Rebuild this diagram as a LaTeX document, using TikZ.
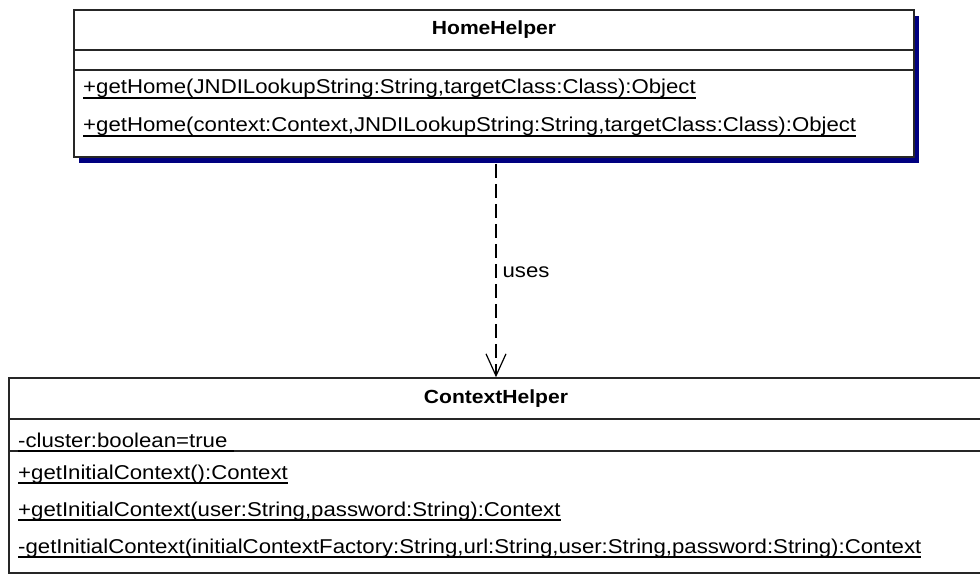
\documentclass[tikz,border=0pt]{standalone}
\usepackage{fontspec}
\setmainfont{Liberation Sans}[FakeStretch=1.11]
\usepackage{tikz}
\usetikzlibrary{positioning,shadows,arrows.meta}
\definecolor{shadowblue}{RGB}{0,0,128}
\newcommand{\ulined}[1]{\setbox0\hbox{#1}\rlap{\vrule height -3.4pt depth 4.6pt width \wd0}\box0}
\tikzset{
classbox/.style={rectangle, draw=black!85, line width=1.5pt, fill=white, inner sep=0pt},
classshadow/.style={drop shadow={shadow xshift=5pt, shadow yshift=-6pt, fill=shadowblue, opacity=1}},
classline/.style={draw=black!85, line width=1.5pt},
classname/.style={font=\fontsize{19}{22}\selectfont\bfseries, inner sep=0pt},
member/.style={font=\fontsize{20}{24}\selectfont, anchor=base west, inner sep=0pt},
uses/.style={line width=1.2pt, dash pattern=on 14pt off 6pt, shorten <=6pt,
  -{Straight Barb[length=22pt, width=20pt, line width=1.2pt]}}
}

\begin{document}
\begin{tikzpicture}[x=1pt, y=-1pt]
\useasboundingbox (0,0) rectangle (980,575);
% HomeHelper
\node[classbox, classshadow, minimum width=840pt, minimum height=147pt] (home) at (494,83.5) {};
\draw[classline] (home.west |- 0,50) -- (home.east |- 0,50)
    (home.west |- 0,70) -- (home.east |- 0,70);
\node[classname] (homename) at (494,30) {HomeHelper};
\node[member] (homeop1) at (83,94) {\ulined{+getHome(JNDILookupString:String,targetClass:Class):Object}};
\node[member] (homeop2) at (83,132) {\ulined{+getHome(context:Context,JNDILookupString:String,targetClass:Class):Object}};
% ContextHelper
\node[classbox, minimum width=974pt, minimum height=195pt] (ctx) at (496,475.5) {};
\draw[classline] (ctx.west |- 0,419) -- (ctx.east |- 0,419)
    (ctx.west |- 0,451) -- (ctx.east |- 0,451);
\node[classname] (ctxname) at (496,398.5) {ContextHelper};
\node[member] (ctxattr) at (18,447) {\ulined{-cluster:boolean=true\ }};
\node[member] (ctxop1) at (18,479) {\ulined{+getInitialContext():Context}};
\node[member] (ctxop2) at (18,516) {\ulined{+getInitialContext(user:String,password:String):Context}};
\node[member] (ctxop3) at (18,553) {\ulined{-getInitialContext(initialContextFactory:String,url:String,user:String,password:String):Context}};
% dependency
\draw[uses] (home.south -| ctx.north) -- node[pos=0.52, right, inner sep=0pt, xshift=6pt, font=\fontsize{20}{24}\selectfont] (useslabel) {uses} (ctx.north);
\end{tikzpicture}
\end{document}
